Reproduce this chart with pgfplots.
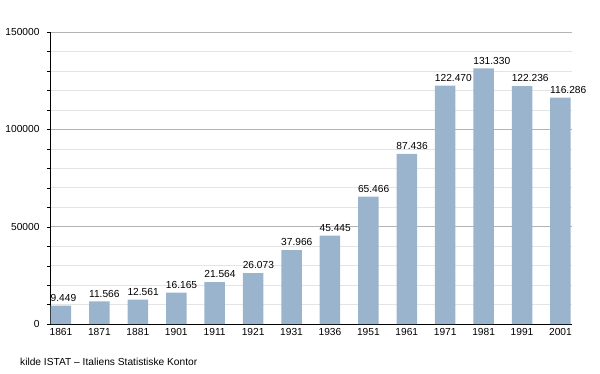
\documentclass[border=0pt]{standalone}
\usepackage{fontspec}
\setmainfont{Liberation Sans}
\usepackage{pgfplots}
\pgfplotsset{compat=1.18}
\definecolor{barblue}{HTML}{9BB4CE}
\definecolor{majgrid}{HTML}{B4B4B4}
\definecolor{mingrid}{HTML}{E4E4E4}
\begin{document}
\begin{tikzpicture}[x=1pt,y=1pt]
\useasboundingbox (-50,-49) rectangle (550,324);
\begin{axis}[
  at={(0,0)}, anchor=south west,
  scale only axis, width=522pt, height=292pt,
  xmin=-0.286, xmax=13.30, ymin=0, ymax=150000,
  axis x line*=bottom, axis y line*=left,
  axis line style={black, -},
  ytick={0,50000,100000,150000},
  yticklabels={0,50000,100000,150000},
  minor y tick num=4,
  ymajorgrids, yminorgrids,
  major grid style={majgrid, line width=0.6pt},
  minor grid style={mingrid, line width=0.6pt},
  tick align=outside,
  major tick length=3pt, minor tick length=3pt,
  tick style={black},
  xtick=data,
  xtick style={draw=none},
  xticklabels={1861,1871,1881,1901,1911,1921,1931,1936,1951,1961,1971,1981,1991,2001},
  font=\fontsize{10.2}{12}\selectfont,
  ticklabel style={font=\fontsize{10.2}{12}\selectfont},
  xticklabel style={yshift=2pt},
  yticklabel style={xshift=-4pt},
  scaled y ticks=false,
  ybar, bar width=20.5pt,
  point meta=explicit symbolic,
  nodes near coords,
  every node near coord/.append style={anchor=south west, xshift=-10.5pt, inner xsep=0pt, inner ysep=4pt, font=\fontsize{10.2}{12}\selectfont},
  clip=false,
]
\addplot[fill=barblue, draw=none] coordinates {
  (0,9449) [9.449]
  (1,11566) [11.566]
  (2,12561) [12.561]
  (3,16165) [16.165]
  (4,21564) [21.564]
  (5,26073) [26.073]
  (6,37966) [37.966]
  (7,45445) [45.445]
  (8,65466) [65.466]
  (9,87436) [87.436]
  (10,122470) [122.470]
  (11,131330) [131.330]
  (12,122236) [122.236]
  (13,116286) [116.286]
};
\end{axis}
\node[anchor=west, inner sep=0pt, font=\fontsize{10.2}{12}\selectfont] at (-30,-38) {kilde ISTAT – Italiens Statistiske Kontor};
\end{tikzpicture}
\end{document}
